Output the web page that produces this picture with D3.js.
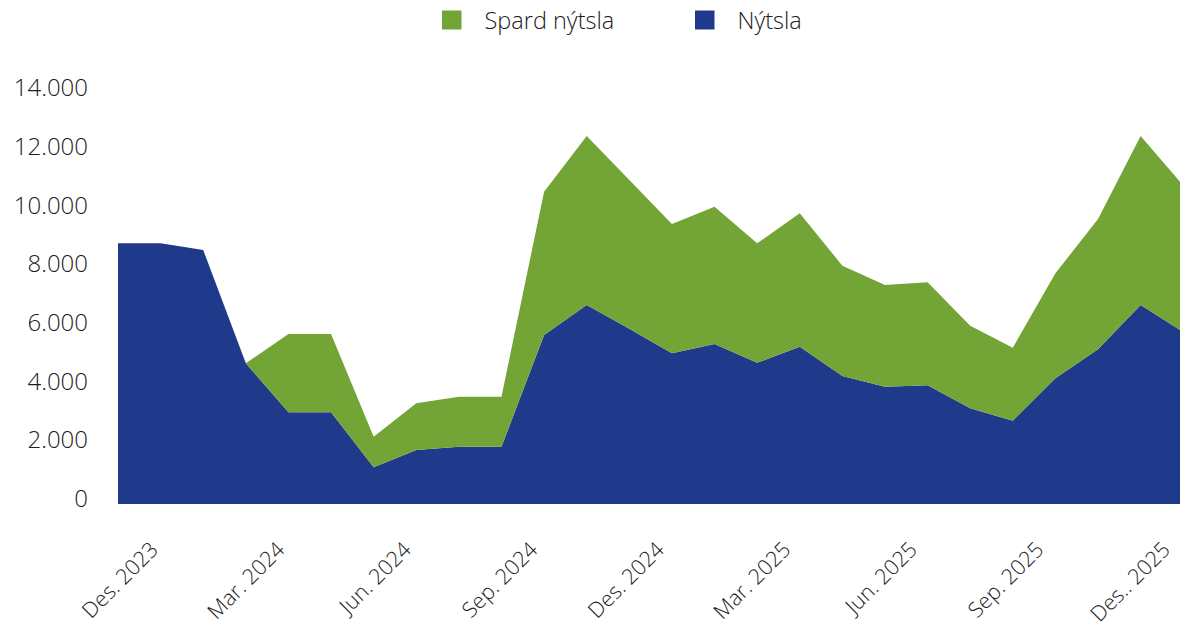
<!DOCTYPE html>
<html>
<head>
<meta charset="utf-8">
<script src="https://cdn.jsdelivr.net/npm/d3@7"></script>
<style>
  html, body { margin: 0; padding: 0; background: #fff; }
  svg { display: block; }
  text { font-family: "Open Sans", "Noto Sans", sans-serif; fill: #1c1c1c; font-weight: 300; }
</style>
</head>
<body>
<svg id="chart" width="1180" height="630"></svg>
<script>
// ---- data ----
const months = [
  "Des. 2023", "Jan. 2024", "Feb. 2024", "Mar. 2024", "Apr. 2024", "Mai. 2024",
  "Jun. 2024", "Jul. 2024", "Aug. 2024", "Sep. 2024", "Okt. 2024", "Nov. 2024",
  "Des. 2024", "Jan. 2025", "Feb. 2025", "Mar. 2025", "Apr. 2025", "Mai. 2025",
  "Jun. 2025", "Jul. 2025", "Aug. 2025", "Sep. 2025", "Okt. 2025", "Nov. 2025",
  "Des.. 2025", "Jan. 2026"
];
const nytsla = [8885, 8885, 8656, 4795, 3125, 3125, 1251, 1840, 1953, 1953, 5759, 6782,
  5971, 5136, 5453, 4815, 5361, 4362, 3998, 4045, 3261, 2839, 4284, 5272, 6782, 5858];
const spardNytsla = [0, 0, 0, 0, 2669, 2669, 1043, 1592, 1704, 1704, 4884, 5759,
  5071, 4406, 4679, 4070, 4546, 3759, 3465, 3510, 2815, 2488, 3578, 4441, 5759, 4996];
const tickMonths = ["Des. 2023", "Mar. 2024", "Jun. 2024", "Sep. 2024", "Des. 2024",
  "Mar. 2025", "Jun. 2025", "Sep. 2025", "Des.. 2025"];
const yTicks = [0, 2000, 4000, 6000, 8000, 10000, 12000, 14000];
const seriesNames = ["Spard nýtsla", "Nýtsla"];
const colors = { "Nýtsla": "#1F3A8B", "Spard nýtsla": "#72A535" };

// ---- table ----
const table = months.map((m, i) => ({ month: m, "Nýtsla": nytsla[i], "Spard nýtsla": spardNytsla[i] }));

const svg = d3.select("#chart");

const x = d3.scalePoint().domain(months).range([118, 1183.25]);
const y = d3.scaleLinear().domain([0, 14000]).range([504, 93.2]);
// label positions (category labels of the x axis)
const xl = d3.scalePoint().domain(months.slice(0, 25)).range([159, 1171]);

const stack = d3.stack().keys(["Nýtsla", "Spard nýtsla"]).order(d3.stackOrderNone).offset(d3.stackOffsetNone);
const layers = stack(table);

const area = d3.area()
  .x(d => x(d.data.month))
  .y0(d => y(d[0]))
  .y1(d => y(d[1]));

svg.append("g").selectAll("path")
  .data(layers)
  .join("path")
  .attr("d", area)
  .attr("fill", d => colors[d.key]);

// y axis
const yAxis = d3.axisLeft(y)
  .tickValues(yTicks)
  .tickSize(0)
  .tickPadding(0)
  .tickFormat(d => d3.format(",")(d).replace(/,/g, "."));
const gy = svg.append("g").attr("transform", "translate(88,0)").call(yAxis);
gy.select(".domain").remove();
gy.selectAll("text")
  .attr("x", 0)
  .attr("dy", null)
  .attr("y", 2.5)
  .style("dominant-baseline", "auto")
  .attr("font-size", "24px")
  .attr("font-family", null)
  .attr("fill", "#1c1c1c");

// x axis labels
const xAxis = d3.axisBottom(xl).tickValues(tickMonths).tickSize(0).tickPadding(0);
const gx = svg.append("g").attr("transform", "translate(0,551)").call(xAxis);
gx.select(".domain").remove();
gx.selectAll(".tick text")
  .attr("y", 0)
  .attr("dy", null)
  .attr("text-anchor", "end")
  .attr("transform", "rotate(-45)")
  .attr("font-size", "21.5px")
  .attr("font-family", null)
  .attr("fill", "#1c1c1c");

// legend
const legendX = d3.scaleOrdinal().domain(seriesNames).range([442, 695]);
const lg = svg.append("g").selectAll("g")
  .data(seriesNames)
  .join("g")
  .attr("transform", d => `translate(${legendX(d)},10.5)`);
lg.append("rect").attr("width", 19.5).attr("height", 19).attr("fill", d => colors[d]);
lg.append("text")
  .attr("x", 42.5)
  .attr("y", 18)
  .attr("font-size", "23.5px")
  .attr("fill", "#1c1c1c")
  .text(d => d);
</script>
</body>
</html>
